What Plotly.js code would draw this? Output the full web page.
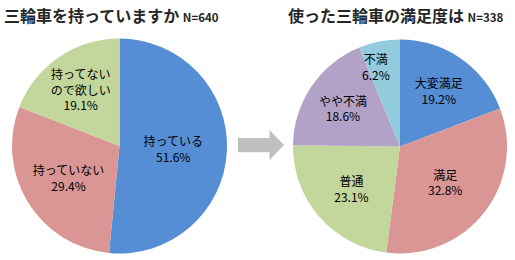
<!DOCTYPE html>
<html>
<head>
<meta charset="utf-8">
<script src="https://cdn.plot.ly/plotly-3.0.1.min.js"></script>
<style>
html,body{margin:0;padding:0;background:#fff;}
#chart{width:515px;height:260px;}
</style>
</head>
<body>
<div id="chart"></div>
<script>
// Left pie: 三輪車を持っていますか (N=640)
const ownLabels = ["持っている", "持っていない", "持ってない<br>ので欲しい"];
const ownValues = [51.6, 29.4, 19.1];
const ownColors = ["#558ED5", "#D99694", "#C3D69B"];

// Right pie: 使った三輪車の満足度は (N=338)
const satLabels = ["大変満足", "満足", "普通", "やや不満", "不満"];
const satValues = [19.2, 32.8, 23.1, 18.6, 6.2];
const satColors = ["#558ED5", "#D99694", "#C3D69B", "#B3A2C7", "#93CDDD"];

const W = 515, H = 260;
const px = x => x / W;
const py = y => 1 - y / H;

const font = "Noto Sans CJK JP, sans-serif";
const labelFont = {family: font, size: 12, color: "#000"};

// slices whose label is drawn as an annotation (too narrow for Plotly's inside text)
const outLabelIdx = {sat: 4};

function pieTrace(labels, values, colors, cx, cy, r, skip) {
  const txt = values.map((v, i) => i === skip ? "" : labels[i] + "<br>" + v.toFixed(1) + "%");
  return {
    type: "pie",
    labels: labels,
    values: values,
    text: txt,
    textinfo: "text",
    textposition: "inside",
    insidetextorientation: "horizontal",
    insidetextfont: labelFont,
    sort: false,
    direction: "clockwise",
    rotation: 0,
    marker: {colors: colors, line: {width: 0}},
    hoverinfo: "none",
    showlegend: false,
    domain: {x: [px(cx - r), px(cx + r)], y: [py(cy + r), py(cy - r)]}
  };
}

const satC = {x: 400, y: 146.5, r: 107};
const data = [
  pieTrace(ownLabels, ownValues, ownColors, 119.5, 146, 107.5, -1),
  pieTrace(satLabels, satValues, satColors, satC.x, satC.y, satC.r, outLabelIdx.sat)
];

// position for the narrow slice label, from its mid-angle
function sliceLabelAnno(labels, values, idx, c, rFrac, angNudge) {
  const total = values.reduce((a, b) => a + b, 0);
  let before = 0;
  for (let i = 0; i < idx; i++) before += values[i];
  const mid = (before + values[idx] / 2) / total * 2 * Math.PI + angNudge;
  const x = c.x + Math.sin(mid) * c.r * rFrac;
  const y = c.y - Math.cos(mid) * c.r * rFrac;
  return {
    xref: "paper", yref: "paper", x: px(x), y: py(y),
    xanchor: "center", yanchor: "middle", showarrow: false,
    text: labels[idx] + "<br>" + values[idx].toFixed(1) + "%",
    font: labelFont
  };
}

const arrowPath = "M " + px(238) + " " + py(138) +
  " L " + px(269.5) + " " + py(138) +
  " L " + px(269.5) + " " + py(130) +
  " L " + px(284) + " " + py(145) +
  " L " + px(269.5) + " " + py(160) +
  " L " + px(269.5) + " " + py(152.3) +
  " L " + px(238) + " " + py(152.3) + " Z";

const layout = {
  width: W, height: H,
  margin: {l: 0, r: 0, t: 0, b: 0},
  paper_bgcolor: "#fff",
  plot_bgcolor: "#fff",
  shapes: [{
    type: "path", xref: "paper", yref: "paper",
    path: arrowPath,
    fillcolor: "#BFBFBF", line: {width: 0}
  }],
  annotations: [
    {xref: "paper", yref: "paper", x: px(2), y: py(15), xanchor: "left", yanchor: "middle",
     text: "<b>三輪車を持っていますか</b> <b><span style='font-size:11.5px'>N=640</span></b>",
     showarrow: false, font: {family: font, size: 16, color: "#262626"}},
    {xref: "paper", yref: "paper", x: px(286), y: py(15), xanchor: "left", yanchor: "middle",
     text: "<b>使った三輪車の満足度は</b> <b><span style='font-size:11.5px'>N=338</span></b>",
     showarrow: false, font: {family: font, size: 16, color: "#262626"}},
    sliceLabelAnno(satLabels, satValues, outLabelIdx.sat, satC, 0.78, -0.1)
  ]
};

Plotly.newPlot("chart", data, layout, {displayModeBar: false, staticPlot: true});
</script>
</body>
</html>
